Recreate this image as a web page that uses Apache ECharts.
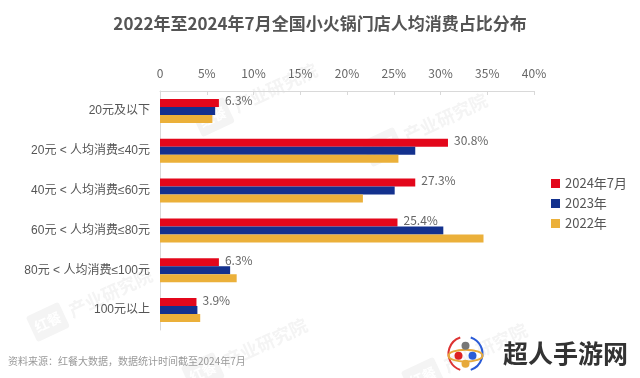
<!DOCTYPE html>
<html><head><meta charset="utf-8">
<script src="https://cdn.jsdelivr.net/npm/echarts@6/dist/echarts.min.js"></script>
<style>html,body{margin:0;padding:0;background:#fff}#c{width:640px;height:378px}</style>
</head><body><div id="c"></div>
<script>
const categories = ['20元及以下','20元 < 人均消费≤40元','40元 < 人均消费≤60元','60元 < 人均消费≤80元','80元 < 人均消费≤100元','100元以上'];
const seriesNames = ['2024年7月','2023年','2022年'];
const v2024 = [6.3, 30.8, 27.3, 25.4, 6.3, 3.9];
const v2023 = [5.9, 27.3, 25.1, 30.3, 7.5, 4.0];
const v2022 = [5.6, 25.5, 21.7, 34.6, 8.2, 4.3];
const xTicks = [0,5,10,15,20,25,30,35,40];
const colors = ['#E3071B','#13318E','#EBB03A'];
const font = '"Noto Sans CJK SC","Noto Sans",sans-serif';
const latinFirst = '"Liberation Sans","Noto Sans CJK SC",sans-serif';

const chart = echarts.init(document.getElementById('c'));
function wm(x,y){
  return {type:'group', x:x, y:y, rotation: 25*Math.PI/180, silent:true, children:[
    {type:'rect', shape:{x:-70,y:-14,width:36,height:28,r:3}, style:{fill:'#f4f4f4'}},
    {type:'text', style:{x:-52,y:0,text:'红餐',align:'center',verticalAlign:'middle',font:'bold 14px '+font,fill:'#fff'}},
    {type:'text', style:{x:-28,y:0,text:'产业研究院',verticalAlign:'middle',font:'bold 18px '+font,fill:'#f4f4f4'}}
  ]};
}
const option = {
  backgroundColor:'#fff',
  animation:false,
  title:{text:'2022年至2024年7月全国小火锅门店人均消费占比分布', left:'center', top:10,
    textStyle:{fontFamily:font, fontSize:17, fontWeight:'bold', color:'#555'}},
  legend:{orient:'vertical', left:546, top:172, itemWidth:9, itemHeight:9, itemGap:7, icon:'rect',
    textStyle:{fontFamily:font, fontSize:13, color:'#555'}, data:seriesNames},
  grid:{left:160, right:106, top:91, bottom:48, containLabel:false},
  xAxis:{type:'value', position:'top', min:xTicks[0], max:xTicks[xTicks.length-1], interval:5,
    axisLine:{show:true, lineStyle:{color:'#d9d9d9'}},
    axisTick:{show:true, inside:true, length:4, lineStyle:{color:'#d9d9d9'}},
    splitLine:{show:false},
    axisLabel:{margin:12, fontFamily:font, fontSize:12, color:'#666', formatter:v=> v===0?'0':v+'%'}},
  yAxis:{type:'category', inverse:true, data:categories,
    axisLine:{show:true, lineStyle:{color:'#d9d9d9'}}, axisTick:{show:false},
    axisLabel:{margin:10, fontFamily:latinFirst, fontSize:12, color:'#555'}},
  series:[
    {name:seriesNames[0], type:'bar', data:v2024, barWidth:8, barGap:'0%', itemStyle:{color:colors[0]},
      label:{show:true, position:'right', distance:6, fontFamily:font, fontSize:12, color:'#666', formatter:p=>p.value.toFixed(1)+'%', offset:[0,-2]}},
    {name:seriesNames[1], type:'bar', data:v2023, barWidth:8, barGap:'0%', itemStyle:{color:colors[1]}},
    {name:seriesNames[2], type:'bar', data:v2022, barWidth:8, barGap:'0%', itemStyle:{color:colors[2]}}
  ],
  graphic:[
    wm(260,95), wm(430,125), wm(95,300), wm(250,350), wm(470,355),
    {type:'text', left:8, top:356, silent:true, style:{text:'资料来源：红餐大数据，数据统计时间截至2024年7月', font:'10px '+font, fill:'#999'}},
    {type:'group', left:446, top:335, silent:true, children:[
      {type:'arc', shape:{cx:20,cy:20,r:17,startAngle:Math.PI*0.6,endAngle:Math.PI*1.4}, style:{stroke:'#d33',lineWidth:2,fill:null}},
      {type:'arc', shape:{cx:20,cy:20,r:17,startAngle:-Math.PI*0.4,endAngle:Math.PI*0.4}, style:{stroke:'#2a5bd7',lineWidth:2,fill:null}},
      {type:'ellipse', shape:{cx:20,cy:22,rx:17,ry:6}, style:{stroke:'#e7a93a',lineWidth:2,fill:null}},
      {type:'circle', shape:{cx:20,cy:12,r:4}, style:{fill:'#777'}},
      {type:'circle', shape:{cx:13,cy:22,r:4}, style:{fill:'#d22'}},
      {type:'circle', shape:{cx:27,cy:22,r:4}, style:{fill:'#2a5bd7'}},
      {type:'circle', shape:{cx:20,cy:30,r:4}, style:{fill:'#e7a93a'}}
    ]},
    {type:'text', left:503, top:341, silent:true, style:{text:'超人手游网', font:'bold 25px '+font, fill:'#333'}}
  ]
};
chart.setOption(option);
</script></body></html>
